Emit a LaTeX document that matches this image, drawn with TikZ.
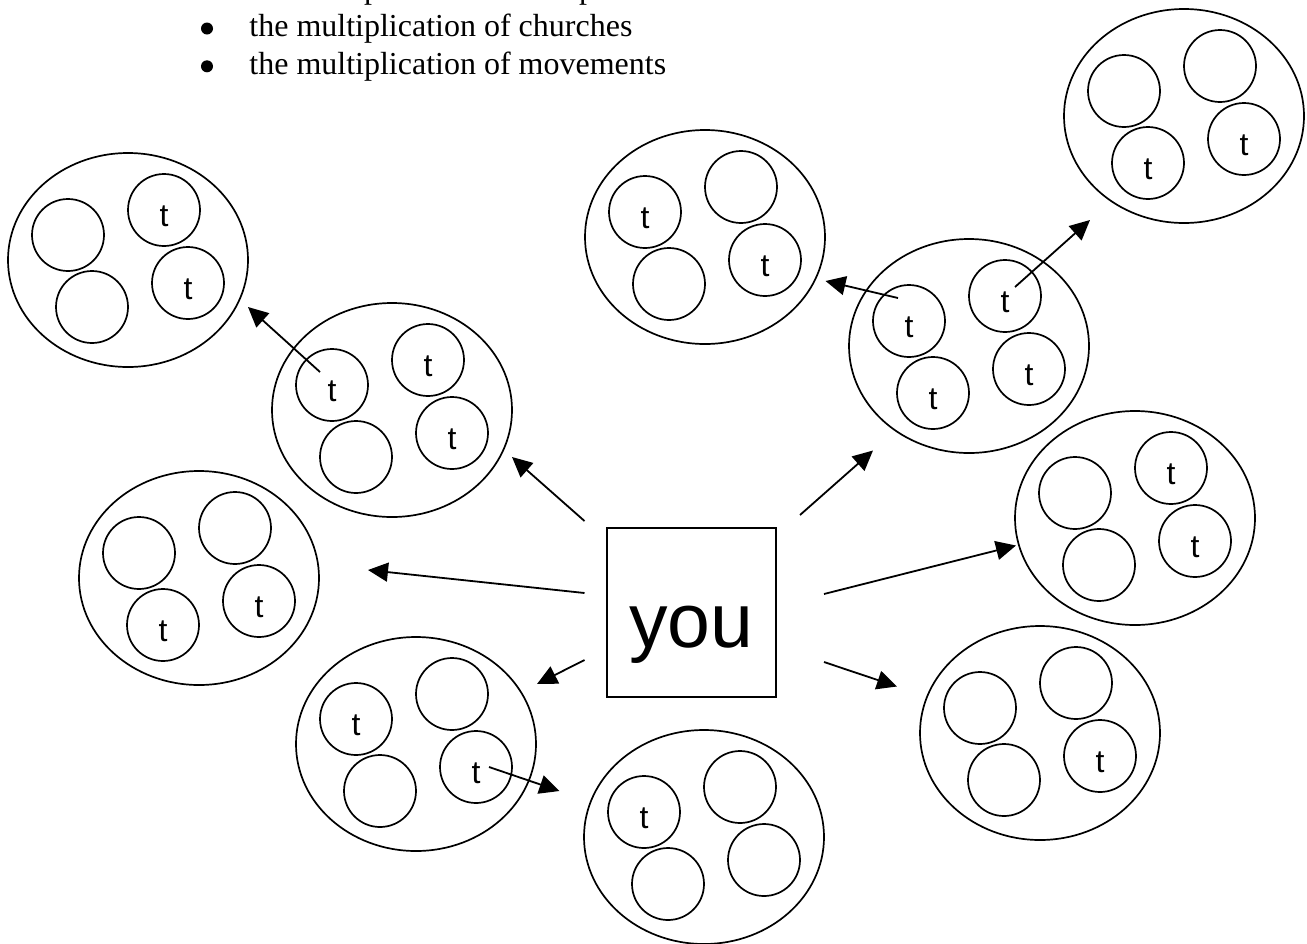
\documentclass[tikz,border=0pt]{standalone}
\usepackage{fontspec}
\setmainfont{Liberation Serif}
\newfontfamily\sansf{Liberation Sans}
\usetikzlibrary{shapes.geometric,arrows.meta}
\tikzset{
  grp/.style={draw, ellipse, line width=0.85pt, minimum width=120pt, minimum height=107pt, inner sep=0pt},
  mem/.style={draw, circle, line width=0.85pt, minimum size=36pt, inner sep=0pt,
    font=\sansf\fontsize{16}{16}\selectfont, text height=16pt, text depth=0pt},
  arr/.style={line width=0.9pt, -{Triangle[length=10pt,width=9.5pt]}},
  youbox/.style={draw, rectangle, line width=0.9pt, minimum size=84.5pt, inner sep=0pt,
    font=\sansf\fontsize{38.5}{40}\selectfont, text height=34.5pt, text depth=0pt},
  bultext/.style={anchor=base west, inner sep=0pt, font=\fontsize{16}{18}\selectfont},
}
\newcommand\mygroup[7]{%
  \node[grp] (#1) at (#2,#3) {};
  \node[mem] (#1tl) at (#2-60,#3-25) {#4};
  \node[mem] (#1tr) at (#2+36,#3-50) {#5};
  \node[mem] (#1bl) at (#2-36,#3+47) {#6};
  \node[mem] (#1br) at (#2+60,#3+23) {#7};
}
\begin{document}
\begin{tikzpicture}[x=0.5pt,y=-0.5pt]
\clip (0,0) rectangle (1307,943);
\fill[white] (0,0) rectangle (1307,943);
% bullet list (first line runs above the top edge)
\node[bultext] (l1) at (249,-1.5) {the multiplication of disciples};
\node[bultext] (l2) at (249,36.7) {the multiplication of churches};
\node[bultext] (l3) at (249,74) {the multiplication of movements};
\fill (207,28.5) circle[radius=3pt];
\fill (207,66.3) circle[radius=3pt];
% groups
\mygroup{A}{128}{260}{}{t}{}{t}
\mygroup{B}{392}{410}{t}{t}{}{t}
\mygroup{C}{199}{578}{}{}{t}{t}
\mygroup{D}{705}{237}{t}{}{}{t}
\mygroup{E}{416}{744}{t}{}{}{t}
\mygroup{G}{969}{346}{t}{t}{t}{t}
\mygroup{H}{1135}{518}{}{t}{}{t}
\mygroup{I}{1040}{733}{}{}{}{t}
\mygroup{J}{704}{837}{t}{}{}{}
\mygroup{K}{1184}{116}{}{}{t}{t}
% you
\node[youbox] (you) at (691.5,612.5) {you};
% arrow end points
\coordinate (s1) at (584.5,521);  \coordinate (e1) at (512,457);
\coordinate (s2) at (584.5,593);  \coordinate (e2) at (368,570);
\coordinate (s3) at (584.5,660);  \coordinate (e3) at (537,684);
\coordinate (s4) at (800,515);    \coordinate (e4) at (873,450.5);
\coordinate (s5) at (824,594);    \coordinate (e5) at (1016,545.5);
\coordinate (s6) at (824,662);    \coordinate (e6) at (897,686.5);
\coordinate (s7) at (320,372);    \coordinate (e7) at (248,307);
\coordinate (s8) at (898,298);    \coordinate (e8) at (825.5,281);
\coordinate (s9) at (1015,287);   \coordinate (e9) at (1090,220);
\coordinate (s10) at (489,767);   \coordinate (e10) at (559.5,791);
\foreach \i in {1,...,10} {\draw[arr] (s\i) -- (e\i);}
\end{tikzpicture}
\end{document}
